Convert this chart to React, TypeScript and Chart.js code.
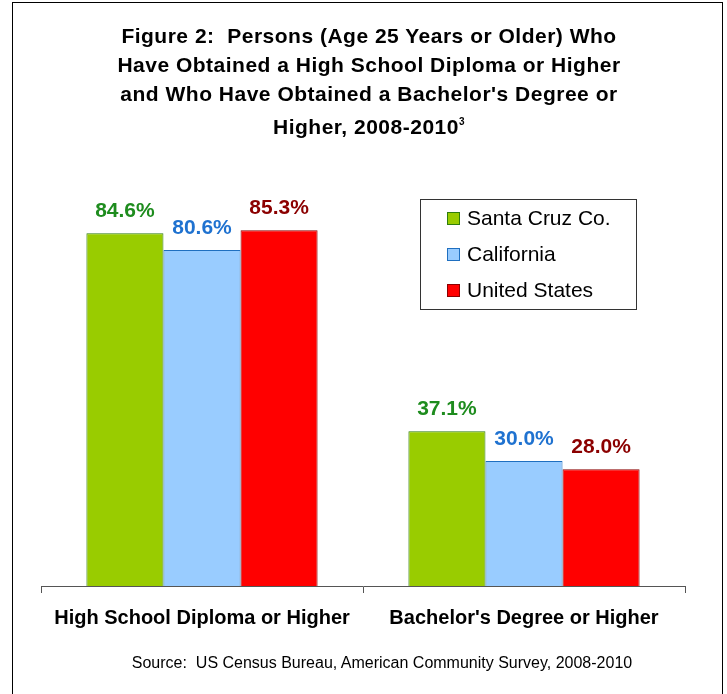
import React, { useEffect, useRef } from "react";
import { Chart, registerables } from "chart.js";

Chart.register(...registerables);

const categories = ["High School Diploma or Higher", "Bachelor's Degree or Higher"];
const seriesNames = ["Santa Cruz Co.", "California", "United States"];
const santaCruz = [84.6, 37.1];
const california = [80.6, 30.0];
const unitedStates = [85.3, 28.0];
const fills = ["#99CC00", "#99CCFF", "#FF0000"];
const borders = ["#2E7D0E", "#1F6FC0", "#8B0000"];
const labelColors = ["#1E8C1E", "#1F72D0", "#8B0000"];
const titleLines = [
  "Figure 2:  Persons (Age 25 Years or Older) Who",
  "Have Obtained a High School Diploma or Higher",
  "and Who Have Obtained a Bachelor's Degree or",
  "Higher, 2008-2010",
];
const titleSup = "3";
const sourceText = "Source:  US Census Bureau, American Community Survey, 2008-2010";

const FONT = "'Liberation Sans', Arial, sans-serif";

const valueLabels = {
  id: "valueLabels",
  afterDatasetsDraw(chart: any) {
    const ctx = chart.ctx;
    ctx.save();
    ctx.font = `bold 21px ${FONT}`;
    ctx.textAlign = "center";
    ctx.textBaseline = "alphabetic";
    chart.data.datasets.forEach((ds: any, i: number) => {
      const meta = chart.getDatasetMeta(i);
      meta.data.forEach((bar: any, j: number) => {
        ctx.fillStyle = labelColors[i];
        ctx.fillText(Number(ds.data[j]).toFixed(1) + "%", bar.x, bar.y - 16);
      });
    });
    ctx.restore();
  },
};

const boxLegend = {
  id: "boxLegend",
  afterDraw(chart: any) {
    const ctx = chart.ctx;
    ctx.save();
    ctx.strokeStyle = "#333";
    ctx.lineWidth = 1;
    ctx.strokeRect(420.5, 199.5, 216, 110);
    ctx.font = `21px ${FONT}`;
    ctx.textAlign = "left";
    ctx.textBaseline = "middle";
    chart.data.datasets.forEach((ds: any, i: number) => {
      const cy = 218 + i * 36;
      ctx.fillStyle = ds.backgroundColor;
      ctx.fillRect(447, cy - 6, 13, 13);
      ctx.strokeStyle = ds.borderColor;
      ctx.strokeRect(447.5, cy - 5.5, 12, 12);
      ctx.fillStyle = "#000";
      ctx.fillText(ds.label, 467, cy + 1);
    });
    ctx.restore();
  },
};

export default function App() {
  const ref = useRef<HTMLCanvasElement>(null);
  useEffect(() => {
    const chart = new Chart(ref.current!, {
      type: "bar",
      data: {
        labels: categories,
        datasets: [santaCruz, california, unitedStates].map((d, i) => ({
          label: seriesNames[i],
          data: d,
          backgroundColor: fills[i],
          borderColor: borders[i],
          borderWidth: 1,
          barPercentage: 1,
          categoryPercentage: 0.718,
        })),
      },
      options: {
        animation: false,
        responsive: false,
        devicePixelRatio: 1,
        layout: { padding: { left: 41, right: 42, top: 169, bottom: 51 } },
        plugins: { legend: { display: false }, tooltip: { enabled: false }, title: { display: false } },
        scales: {
          y: { display: false, min: 0, max: 100 },
          x: {
            border: { display: true, color: "#555", width: 1 },
            grid: { display: true, drawOnChartArea: false, drawTicks: true, tickLength: 7, color: "#555", offset: true },
            ticks: { color: "#000", font: { family: FONT, size: 20, weight: "bold" }, padding: 13 },
          },
        },
      },
      plugins: [valueLabels, boxLegend],
    });
    return () => chart.destroy();
  }, []);

  return (
    <div style={{ position: "fixed", left: 0, top: 0, width: 727, height: 694, background: "#fff", overflow: "hidden", fontFamily: FONT }}>
      <div style={{ position: "absolute", left: 12, top: 2, width: 709, height: 720, border: "1px solid #000" }} />
      <canvas ref={ref} width={727} height={694} style={{ position: "absolute", left: 0, top: 0, width: 727, height: 694 }} />
      <div style={{ position: "absolute", left: 69, width: 600, top: 21, textAlign: "center", fontWeight: "bold", fontSize: 21, letterSpacing: "0.5px", lineHeight: "29px", color: "#000", whiteSpace: "pre" }}>
        <div>{titleLines[0]}</div>
        <div>{titleLines[1]}</div>
        <div>{titleLines[2]}</div>
        <div style={{ marginTop: 4 }}>
          {titleLines[3]}
          <sup style={{ fontSize: 10, lineHeight: 0, verticalAlign: "9px" }}>{titleSup}</sup>
        </div>
      </div>
      <div style={{ position: "absolute", left: 82, width: 600, top: 654, textAlign: "center", fontSize: 16, lineHeight: "18px", color: "#000", whiteSpace: "pre" }}>
        {sourceText}
      </div>
    </div>
  );
}
